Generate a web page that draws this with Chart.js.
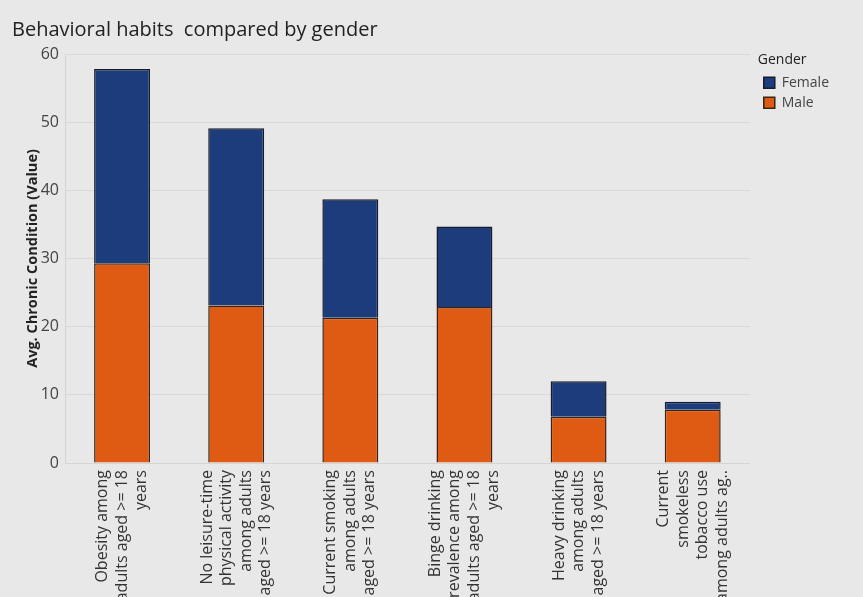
<!DOCTYPE html>
<html>
<head>
<meta charset="utf-8">
<script src="https://cdn.jsdelivr.net/npm/chart.js@4"></script>
<style>
  html, body { margin: 0; padding: 0; background: #e8e8e8; }
  #wrap { width: 863px; height: 597px; position: relative; }
</style>
</head>
<body>
<div id="wrap"><canvas id="myChart"></canvas></div>
<script>
// categories, one array of lines per bar
var categories = [
    ['Obesity among', 'adults aged >= 18', 'years'],
    ['No leisure-time', 'physical activity', 'among adults', 'aged >= 18 years'],
    ['Current smoking', 'among adults', 'aged >= 18 years'],
    ['Binge drinking', 'prevalence among', 'adults aged >= 18', 'years'],
    ['Heavy drinking', 'among adults', 'aged >= 18 years'],
    ['Current', 'smokeless', 'tobacco use', 'among adults ag..']
];
var maleValues = [29.3, 23.1, 21.3, 22.9, 6.8, 7.8];
var femaleValues = [28.5, 26.0, 17.4, 11.8, 5.2, 1.2];
var yTicks = [0, 10, 20, 30, 40, 50, 60];

Chart.defaults.font.family = '"Open Sans", sans-serif';
Chart.defaults.color = '#333';

// rotated, centred multi-line category labels under each bar
var xLabels = {
    id: 'xLabels',
    afterDraw: function (chart) {
        var ctx = chart.ctx;
        var x = chart.scales.x;
        ctx.save();
        ctx.font = '16px "Open Sans"';
        ctx.fillStyle = '#333';
        ctx.textAlign = 'right';
        ctx.textBaseline = 'middle';
        categories.forEach(function (lines, i) {
            var cx = x.getPixelForValue(i);
            lines.forEach(function (line, j) {
                var dx = (j - (lines.length - 1) / 2) * 19.5;
                ctx.save();
                ctx.translate(cx + dx, x.top + 7);
                ctx.rotate(-Math.PI / 2);
                ctx.fillText(line, 0, 0);
                ctx.restore();
            });
        });
        ctx.restore();
    }
};

// nudge the legend a little away from the plot
var legendShift = {
    id: 'legendShift',
    afterLayout: function (chart) {
        if (chart.legend) {
            chart.legend.left += 8;
            chart.legend.right += 8;
        }
    }
};

var ctx = document.getElementById('myChart').getContext('2d');
var chart = new Chart(ctx, {
    type: 'bar',
    data: {
        labels: categories,
        datasets: [{
            label: 'Male',
            data: maleValues,
            backgroundColor: '#df5a12',
            borderColor: '#3a2416',
            borderWidth: 1.5,
            barPercentage: 0.49,
            categoryPercentage: 1
        }, {
            label: 'Female',
            data: femaleValues,
            backgroundColor: '#1d3c7c',
            borderColor: '#161c2c',
            borderWidth: 1.5,
            barPercentage: 0.49,
            categoryPercentage: 1
        }]
    },
    options: {
        responsive: true,
        maintainAspectRatio: false,
        animation: false,
        layout: { padding: { left: 12, right: 32, top: 0, bottom: 0 } },
        scales: {
            x: {
                stacked: true,
                grid: { display: false },
                border: { color: '#d4d4d4' },
                ticks: { display: false },
                afterFit: function (scale) { scale.height = 134; }
            },
            y: {
                stacked: true,
                min: 0,
                max: 60,
                afterBuildTicks: function (scale) {
                    scale.ticks = yTicks.map(function (v) { return { value: v }; });
                },
                grid: { color: '#d8d8d8', drawTicks: false },
                border: { color: '#d4d4d4' },
                ticks: { font: { size: 16 }, color: '#444', padding: 6 },
                title: {
                    display: true,
                    text: 'Avg. Chronic Condition (Value)',
                    font: { size: 14.5, weight: 'bold' },
                    color: '#222',
                    padding: { top: 12, bottom: 2 }
                },
                afterFit: function (scale) { scale.width = 53; }
            }
        },
        plugins: {
            title: {
                display: true,
                text: 'Behavioral habits  compared by gender',
                align: 'start',
                font: { size: 20, weight: 'normal' },
                color: '#222',
                padding: { top: 18, bottom: 12 }
            },
            legend: {
                position: 'right',
                align: 'start',
                reverse: true,
                title: {
                    display: true,
                    text: 'Gender',
                    position: 'start',
                    font: { size: 14 },
                    color: '#222',
                    padding: { top: 53, bottom: 0 }
                },
                labels: {
                    boxWidth: 11,
                    boxHeight: 11,
                    padding: 6,
                    font: { size: 14 },
                    color: '#444'
                }
            },
            tooltip: { enabled: false }
        }
    },
    plugins: [xLabels, legendShift]
});
</script>
</body>
</html>
